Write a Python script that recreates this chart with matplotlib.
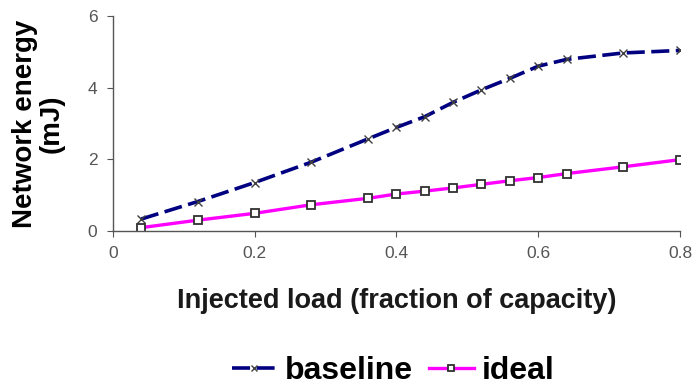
import matplotlib
matplotlib.use('Agg')
import matplotlib.pyplot as plt

# Datos
carga = [0.04, 0.12, 0.20, 0.28, 0.36, 0.40, 0.44, 0.48, 0.52, 0.56, 0.60, 0.64, 0.72, 0.80]
baseline = [0.33, 0.82, 1.35, 1.92, 2.57, 2.89, 3.19, 3.59, 3.94, 4.26, 4.60, 4.79, 4.97, 5.04]
ideal = [0.09, 0.30, 0.49, 0.73, 0.91, 1.03, 1.11, 1.20, 1.30, 1.40, 1.49, 1.60, 1.79, 1.99]
xticks = [0, 0.2, 0.4, 0.6, 0.8]
xticklabels = ['0', '0.2', '0.4', '0.6', '0.8']
yticks = [0, 2, 4, 6]

plt.rcParams['font.family'] = ['Liberation Sans', 'DejaVu Sans']

fig = plt.figure(figsize=(6.96, 3.92), dpi=100)
ax = fig.add_axes([0.162, 0.411, 0.815, 0.548])

ax.plot(carga, baseline, color='#000080', linestyle=(0, (5, 1.8)), linewidth=2.6,
        marker='x', markersize=5.5, markeredgecolor='#404040', markeredgewidth=1, label='baseline')
ax.plot(carga, ideal, color='#ff00ff', linewidth=2.4,
        marker='s', markersize=5.5, markerfacecolor='white', markeredgecolor='#303030',
        markeredgewidth=1.3, label='ideal')

ax.set_xlim(0, 0.8)
ax.set_ylim(0, 6)
ax.set_xticks(xticks)
ax.set_xticklabels(xticklabels)
ax.set_yticks(yticks)

for s in ['top', 'right']:
    ax.spines[s].set_visible(False)
for s in ['left', 'bottom']:
    ax.spines[s].set_color('#555555')
    ax.spines[s].set_linewidth(1.0)
ax.tick_params(direction='out', length=4, color='#555555', labelcolor='#555555',
               labelsize=12.5, pad=7)

ax.set_ylabel('Network energy\n(mJ)', fontsize=20, fontweight='bold', labelpad=17, linespacing=1.0)
ax.set_xlabel('Injected load (fraction of capacity)', fontsize=19.5, fontweight='bold',
              color='#1a1a1a', labelpad=19)

fig.legend(loc='lower center', bbox_to_anchor=(0.565, -0.058), ncol=2, frameon=False,
           prop={'size': 23, 'weight': 'bold'}, handlelength=1.4, handletextpad=0.25,
           columnspacing=0.5, markerscale=0.8)

fig.savefig('out.png', dpi=100)
